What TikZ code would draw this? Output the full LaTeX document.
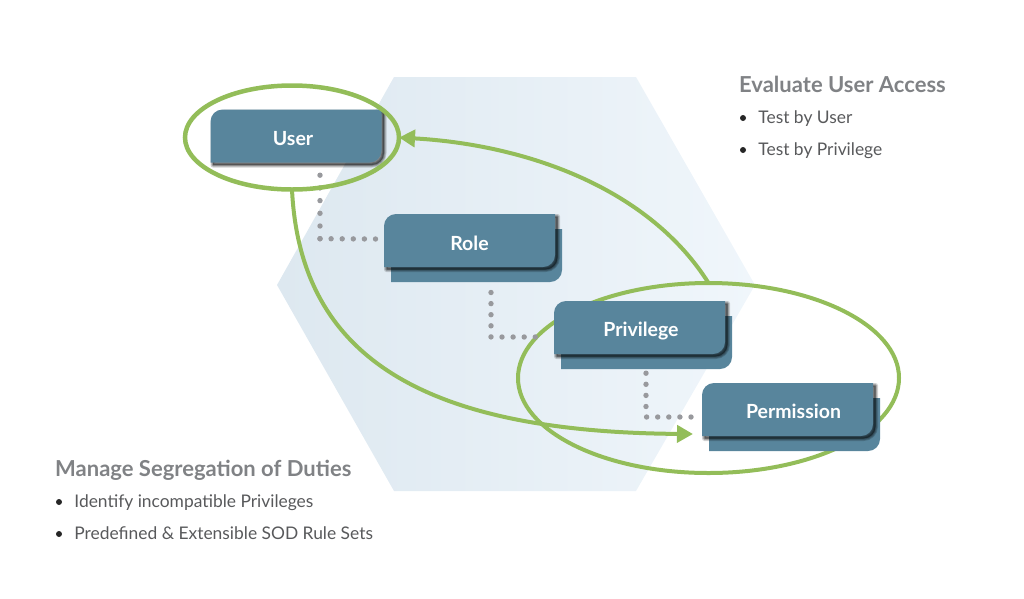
\documentclass[tikz,border=0pt]{standalone}
\usepackage{fontspec}
\setmainfont{Lato}
\usetikzlibrary{positioning,calc,shapes.geometric,arrows.meta}
\definecolor{tagblue}{HTML}{58859C}
\definecolor{ringgreen}{HTML}{93BD59}
\definecolor{dotgray}{HTML}{98999D}
\definecolor{headgray}{HTML}{808285}
\definecolor{itemgray}{HTML}{58595B}
\definecolor{hexleft}{HTML}{DDE8F0}
\definecolor{hexright}{HTML}{F0F6FB}
\tikzset{
  ring/.style={draw=ringgreen,shape=ellipse,inner sep=0pt,outer sep=0pt},
  flow/.style={draw=ringgreen,line width=4pt,-{Triangle[length=16pt,width=17pt]}},
  dots/.style={draw=dotgray,line width=5.4pt,line cap=round,dash pattern=on 0pt off 11.1pt},
  tagfill/.style={fill=tagblue},
  tagshade/.style={draw=black,fill=black,opacity=.17,line join=round},
  taglabel/.style={text=white,font=\bfseries\fontsize{19.5}{22}\selectfont,minimum width=171pt,minimum height=53pt,inner sep=0pt},
  head/.style={text=headgray,font=\bfseries\fontsize{22}{26}\selectfont,anchor=west,inner sep=0pt,text height=16pt,text depth=2pt},
  bullet/.style={fill=black!85,shape=circle,minimum size=6pt,inner sep=0pt},
  item/.style={text=itemgray,font=\fontsize{17.4}{20}\selectfont,inner sep=0pt,text height=12pt,text depth=2pt},
}
\newcommand{\tagpath}{(-85.5,26.5) [rounded corners=12pt] -- (-85.5,-26.5) [sharp corners] -- (85.5,-26.5) [rounded corners=12pt] -- (85.5,26.5) [sharp corners] -- cycle}
\newcommand{\tagback}[1]{\path[tagfill,shift={(#1)},xshift=7pt,yshift=-15pt] \tagpath;}
\newcommand{\tagfront}[1]{%
  \foreach \w in {5,3.4,1.8} {\path[tagshade,shift={(#1)},xshift=2.5pt,yshift=-2.5pt,line width=\w pt] \tagpath;}
  \path[tagfill,shift={(#1)}] \tagpath;}
\begin{document}
\begin{tikzpicture}[x=1pt,y=-1pt]
\useasboundingbox (0,0) rectangle (1024,598);
% hexagon
\path[left color=hexleft,right color=hexright]
  (394,77) -- (636,77) -- (755,285) -- (636,491) -- (394,491) -- (277,285) -- cycle;
\node[ring,line width=4pt,minimum width=381pt,minimum height=190pt] (permring) at (708.5,378) {};
% boxes
\tagfront{296,136}
\node[taglabel,yshift=-3pt] (user) at (296,136) {\hspace*{-6pt}User};
\tagback{469.5,240.5}
\tagfront{469.5,240.5}
\node[taglabel,yshift=-3pt] (role) at (469.5,240.5) {Role};
\tagback{639.5,327.5}
\tagfront{639.5,327.5}
\node[taglabel,yshift=-4pt] (privilege) at (639.5,327.5) {\hspace*{3pt}Privilege};
\tagback{787.5,409.5}
\tagfront{787.5,409.5}
\node[taglabel,yshift=-2pt] (permission) at (787.5,409.5) {\hspace*{12pt}Permission};
% dotted links
\coordinate (userturn) at ($(user.south)+(24,73)$);
\draw[dots,dash pattern=on 0pt off 12.7pt] ($(user.south)+(24,9.5)$) -- (userturn);
\draw[dots] (userturn) -- ($(role.west)+(-8,-4.5)$);
\draw[dots] ($(role.south)+(21.5,22.3)$) |- ($(privilege.west)+(-9,5.5)$);
\draw[dots] ($(privilege.south)+(6.5,15)$) |- ($(permission.west)+(-2,5.5)$);
\node[ring,line width=4.5pt,minimum width=214pt,minimum height=104pt] (userring) at (292,137.5) {};
% arrows
\coordinate (permin) at (693,434);
\draw[flow] (permring.north) .. controls (650,190) and (530,145) .. (userring.east);
\draw[flow] (userring.south) .. controls (300,355) and (420,432) .. (permin);
% texts
\node[head] (evalhead) at (739,85) {Evaluate User Access};
\node[bullet] (evalb1) at (743,118) {};
\node[item,right=12pt of evalb1] (evali1) {Test by User};
\node[bullet] (evalb2) at (743,150) {};
\node[item,right=12pt of evalb2] (evali2) {Test by Privilege};
\node[head] (sodhead) at (55,469) {Manage Segregation of Duties};
\node[bullet] (sodb1) at (59,502) {};
\node[item,right=12pt of sodb1] (sodi1) {Identify incompatible Privileges};
\node[bullet] (sodb2) at (59,534) {};
\node[item,right=12pt of sodb2] (sodi2) {Predefined \& Extensible SOD Rule Sets};
\end{tikzpicture}
\end{document}
